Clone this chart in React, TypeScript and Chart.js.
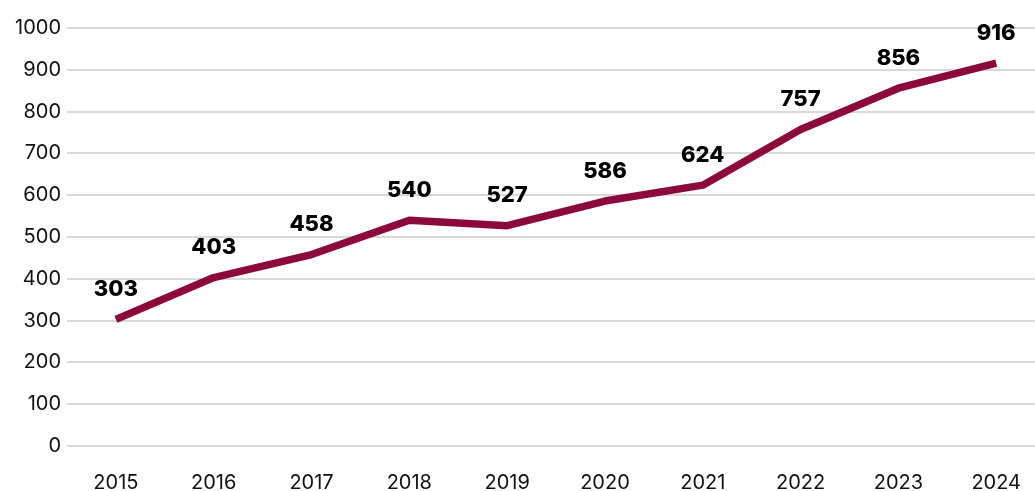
import React, { useEffect, useRef } from "react";
import { Chart, registerables } from "chart.js";

Chart.register(...registerables);

const years = ["2015", "2016", "2017", "2018", "2019", "2020", "2021", "2022", "2023", "2024"];
const values = [303, 403, 458, 540, 527, 586, 624, 757, 856, 916];
const yTicks = [0, 100, 200, 300, 400, 500, 600, 700, 800, 900, 1000];

const LINE_COLOR = "#8c0a3b";
const FONT = "Inter, 'Open Sans', sans-serif";

const labelPlugin = {
  id: "pointLabels",
  afterDatasetsDraw(chart: any) {
    const ctx = chart.ctx;
    const meta = chart.getDatasetMeta(0);
    ctx.save();
    ctx.font = `800 22px ${FONT}`;
    ctx.fillStyle = "#000";
    ctx.textAlign = "center";
    ctx.textBaseline = "middle";
    meta.data.forEach((pt: any, i: number) => {
      ctx.fillText(String(values[i]), pt.x, pt.y - 30);
    });
    ctx.restore();
  },
};

export default function App() {
  const ref = useRef<HTMLCanvasElement>(null);
  useEffect(() => {
    document.body.style.margin = "0";
    const chart = new Chart(ref.current!, {
      type: "line",
      data: {
        labels: years,
        datasets: [
          {
            data: values,
            borderColor: LINE_COLOR,
            borderWidth: 7.5,
            pointRadius: 0,
            tension: 0,
            borderJoinStyle: "round",
          },
        ],
      },
      options: {
        animation: false,
        responsive: false,
        maintainAspectRatio: false,
        devicePixelRatio: 1,
        layout: { padding: { top: 28, left: 0, right: 0, bottom: 0 } },
        plugins: { legend: { display: false }, tooltip: { enabled: false } },
        scales: {
          x: {
            offset: true,
            grid: { display: false, drawTicks: false },
            border: { display: false },
            ticks: { color: "#111", font: { family: FONT, size: 20 }, padding: 25, maxRotation: 0 },
            afterFit(axis: any) {
              axis.height = 45;
            },
          },
          y: {
            min: 0,
            max: 1000,
            afterBuildTicks(axis: any) {
              axis.ticks = yTicks.map((v) => ({ value: v }));
            },
            grid: { color: "#d9d9d9", lineWidth: 2, drawTicks: false },
            border: { display: false },
            ticks: {
              color: "#111",
              font: { family: FONT, size: 20 },
              padding: 6,
              callback: (v: any) => String(v),
            },
            afterFit(axis: any) {
              axis.width = 67;
            },
          },
        },
      },
      plugins: [labelPlugin],
    });
    return () => chart.destroy();
  }, []);
  return (
    <div style={{ width: 1035, height: 491, overflow: "hidden", position: "relative" }}>
      <canvas ref={ref} width={1046} height={491} style={{ display: "block" }} />
    </div>
  );
}
